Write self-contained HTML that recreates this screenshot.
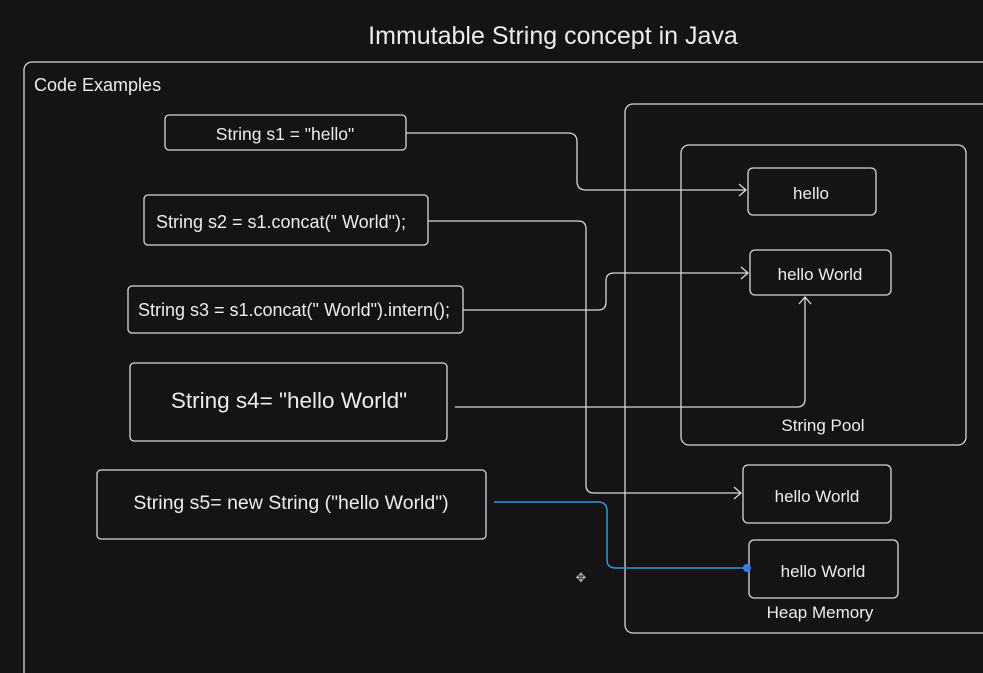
<!DOCTYPE html>
<html><head><meta charset="utf-8"><style>
html,body{margin:0;padding:0;background:#151315;}
svg{display:block}
text{font-family:"Liberation Sans",sans-serif;fill:#ececec}
</style></head><body>
<svg width="983" height="673" viewBox="0 0 983 673" xmlns="http://www.w3.org/2000/svg">
<rect width="983" height="673" fill="#151315"/>
<g fill="none" stroke="#d8d8d8" stroke-width="1.3">
<rect x="24" y="62" width="980" height="640" rx="8"/>
<rect x="625" y="104" width="380" height="529" rx="8"/>
<rect x="681" y="145" width="285" height="300" rx="8"/>
<rect x="165" y="115" width="241" height="35" rx="4"/>
<rect x="144" y="195" width="284" height="50" rx="4"/>
<rect x="128" y="286" width="335" height="47" rx="4"/>
<rect x="130" y="363" width="317" height="78" rx="4"/>
<rect x="97" y="470" width="389" height="69" rx="4"/>
<rect x="748" y="168" width="128" height="47" rx="5"/>
<rect x="750" y="250" width="141" height="45" rx="5"/>
<rect x="743" y="465" width="148" height="58" rx="5"/>
<rect x="749" y="540" width="149" height="58" rx="5"/>
<path d="M406 133 H568 Q577 133 577 142 V181 Q577 190 586 190 H746"/>
<path d="M739 184 L746 190 L739 196"/>
<path d="M428 221 H578 Q586 221 586 229 V485 Q586 493 594 493 H741"/>
<path d="M734 487 L741 493 L734 499"/>
<path d="M463 310 H598 Q606 310 606 302 V281 Q606 273 614 273 H748"/>
<path d="M741 267 L748 273 L741 279"/>
<path d="M455 407 H797 Q805 407 805 399 V297"/>
<path d="M799 304 L805 297 L811 304"/>
</g>
<path d="M494 502 H598 Q607 502 607 511 V560 Q607 568 616 568 H747" fill="none" stroke="#2f9ad6" stroke-width="1.5"/>
<circle cx="747" cy="568" r="4" fill="#3a7fe8"/>
<text x="581" y="582" font-size="13" text-anchor="middle" style="fill:#aaa">✥</text>
<text x="553" y="44" font-size="25" text-anchor="middle">Immutable String concept in Java</text>
<text x="34" y="91" font-size="18">Code Examples</text>
<text x="285" y="140" font-size="17.5" text-anchor="middle">String s1 = "hello"</text>
<text x="281" y="228" font-size="18" text-anchor="middle">String s2 = s1.concat(" World");</text>
<text x="294" y="316" font-size="18" text-anchor="middle">String s3 = s1.concat(" World").intern();</text>
<text x="289" y="408" font-size="22.5" text-anchor="middle">String s4= "hello World"</text>
<text x="291" y="509" font-size="19.5" text-anchor="middle">String s5= new String ("hello World")</text>
<text x="811" y="199" font-size="17" text-anchor="middle">hello</text>
<text x="820" y="280" font-size="17" text-anchor="middle">hello World</text>
<text x="823" y="431" font-size="17" text-anchor="middle">String Pool</text>
<text x="817" y="502" font-size="17" text-anchor="middle">hello World</text>
<text x="823" y="577" font-size="17" text-anchor="middle">hello World</text>
<text x="820" y="618" font-size="17" text-anchor="middle">Heap Memory</text>
</svg>
</body></html>
